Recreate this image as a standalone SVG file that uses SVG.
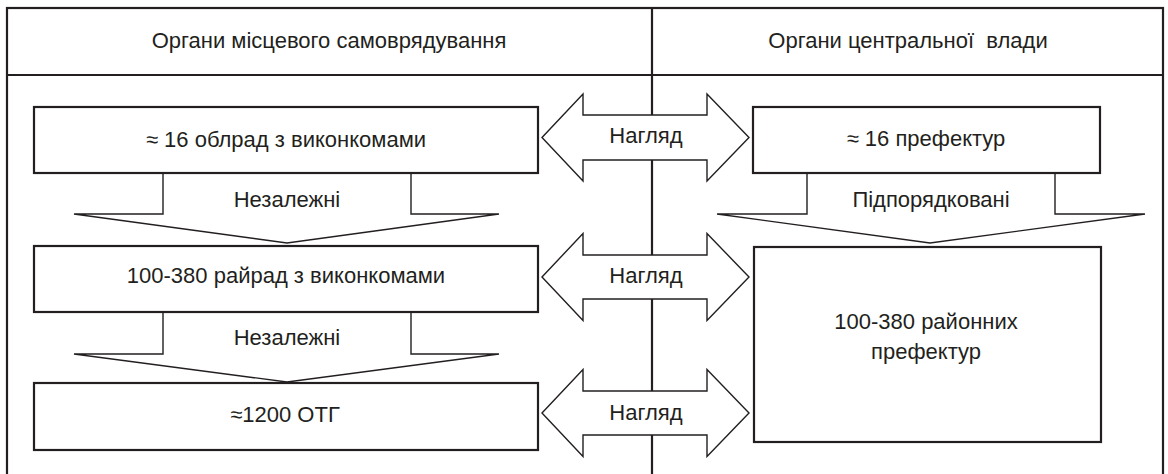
<svg xmlns="http://www.w3.org/2000/svg" width="1168" height="474" viewBox="0 0 1168 474">
  <style>
    .frame { fill: none; stroke: #231f20; stroke-width: 2.2; }
    .box { fill: #ffffff; stroke: #231f20; stroke-width: 2.2; }
    .arrow { fill: #ffffff; stroke: #231f20; stroke-width: 1.4; stroke-linejoin: miter; }
    .txt { font-family: "Liberation Sans", Arial, sans-serif; font-size: 22px; fill: #231f20; text-anchor: middle; white-space: pre; }
  </style>
  <rect width="1168" height="474" fill="#ffffff"/>

  <g id="frame">
    <rect class="frame" x="7" y="8" width="1156" height="480"/>
    <line class="frame" x1="7" y1="75" x2="1163" y2="75"/>
    <line class="frame" x1="652" y1="8" x2="652" y2="480"/>
    <text class="txt" x="329" y="48">Органи місцевого самоврядування</text>
    <text class="txt" x="908" y="48">Органи центральної  влади</text>
  </g>

  <g id="connectors">
    <!-- down arrows -->
    <path class="arrow" d="M163,173 L163,214 L74,214 L287,243 L499,214 L411,214 L411,173"/>
    <text class="txt" x="287" y="207">Незалежні</text>
    <path class="arrow" d="M163,312 L163,354 L74,354 L287,382 L499,354 L411,354 L411,312"/>
    <text class="txt" x="287" y="345">Незалежні</text>
    <path class="arrow" d="M807,173 L807,214 L717,214 L930,243 L1145,214 L1055,214 L1055,173"/>
    <text class="txt" x="931" y="207">Підпорядковані</text>
    <!-- double arrows -->
    <polygon class="arrow" points="542,137.5 583,94 583,115 707,115 707,94 749,137.5 707,181 707,160 583,160 583,181"/>
    <text class="txt" x="646" y="143">Нагляд</text>
    <polygon class="arrow" points="542,277 583,233.5 583,255 707,255 707,233.5 749,277 707,320.5 707,299 583,299 583,320.5"/>
    <text class="txt" x="646" y="283">Нагляд</text>
    <polygon class="arrow" points="542,413 583,369.5 583,391 707,391 707,369.5 749,413 707,456.5 707,435 583,435 583,456.5"/>
    <text class="txt" x="646" y="420">Нагляд</text>
  </g>

  <g id="oblrad">
    <rect class="box" x="34" y="107" width="504" height="66"/>
    <text class="txt" x="286" y="147">≈ 16 облрад з виконкомами</text>
  </g>
  <g id="rayrad">
    <rect class="box" x="34" y="246" width="504" height="66"/>
    <text class="txt" x="286" y="283">100-380 райрад з виконкомами</text>
  </g>
  <g id="otg">
    <rect class="box" x="34" y="383" width="504" height="67"/>
    <text class="txt" x="285" y="422">≈1200 ОТГ</text>
  </g>
  <g id="prefectures">
    <rect class="box" x="753" y="107" width="347" height="66"/>
    <text class="txt" x="926" y="146">≈ 16 префектур</text>
  </g>
  <g id="district-prefectures">
    <rect class="box" x="754" y="247" width="347" height="195"/>
    <text class="txt" x="926" y="329">100-380 районних</text>
    <text class="txt" x="926" y="359">префектур</text>
  </g>
</svg>
